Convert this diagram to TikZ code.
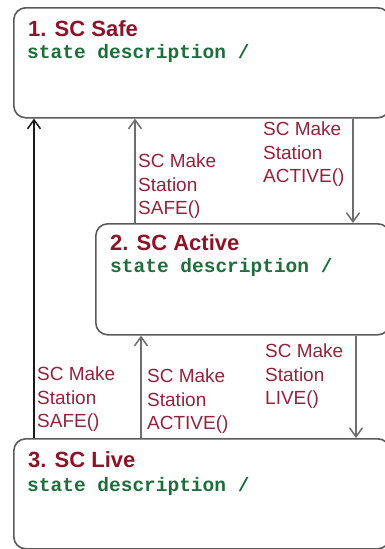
\documentclass[tikz,border=0pt]{standalone}
\usepackage{fontspec}
\setmainfont{Liberation Sans}
\newfontfamily\codefont{Liberation Mono}
\usetikzlibrary{arrows.meta}
\definecolor{titlered}{RGB}{140,20,40}
\definecolor{labelred}{RGB}{145,35,60}
\definecolor{codegreen}{RGB}{30,110,60}
\definecolor{boxgray}{RGB}{90,90,90}
\definecolor{linegray}{RGB}{110,110,110}
\tikzset{
  statebox/.style={draw=boxgray, line width=1.6pt, rounded corners=12pt,
    rectangle, inner sep=0pt, anchor=north west},
  statetitle/.style={anchor=base west, inner sep=0pt, text=titlered,
    font=\fontsize{22}{26}\selectfont\bfseries},
  statedesc/.style={anchor=base west, inner sep=0pt, text=codegreen,
    font=\codefont\fontsize{19.5}{23}\selectfont\bfseries},
  translabel/.style={anchor=north west, inner sep=0pt, align=left,
    text=labelred, font=\fontsize{19}{23.5}\selectfont},
  trans/.style={draw=linegray, line width=1.6pt,
    -{Straight Barb[length=9pt,width=13pt,line width=1.5pt]}},
  transdark/.style={trans, draw=black!90}
}
\begin{document}
\begin{tikzpicture}[x=1pt,y=-1pt]
  \useasboundingbox (0,0) rectangle (385,549);
  \begin{scope}
    \clip (0,0) rectangle (385,549);
    % the three states
    \node[statebox, minimum width=376pt, minimum height=110pt] (s1) at (13,7) {};
    \node[statebox, minimum width=294pt, minimum height=111pt] (s2) at (95,223) {};
    \node[statebox, minimum width=376pt, minimum height=110pt] (s3) at (13,438) {};
  \end{scope}

  \node[statetitle] (t1) at (28,36) {1. SC Safe};
  \node[statedesc] (d1) at (27,58) {state description /};
  \node[statetitle] (t2) at (110,250) {2. SC Active};
  \node[statedesc] (d2) at (110,272) {state description /};
  \node[statetitle] (t3) at (28,467) {3. SC Live};
  \node[statedesc] (d3) at (27,491) {state description /};

  % vertical positions of the transitions
  \coordinate (xa) at (34,0);
  \coordinate (xb) at (135,0);
  \coordinate (xc) at (353,0);
  \coordinate (xd) at (141,0);
  \coordinate (xe) at (356,0);

  \draw[transdark] (xa |- s3.north) -- (xa |- s1.south);
  \draw[trans] (xb |- s2.north) -- (xb |- s1.south);
  \draw[trans] (xc |- s1.south) -- (xc |- s2.north);
  \draw[trans] (xd |- s3.north) -- (xd |- s2.south);
  \draw[trans] (xe |- s2.south) -- (xe |- s3.north);

  % transition labels
  \node[translabel] (l1) at (263,122) {SC Make\\Station\\ACTIVE()};
  \node[translabel] (l2) at (138,154) {SC Make\\Station\\SAFE()};
  \node[translabel] (l3) at (37,367) {SC Make\\Station\\SAFE()};
  \node[translabel] (l4) at (147,369) {SC Make\\Station\\ACTIVE()};
  \node[translabel] (l5) at (265,344) {SC Make\\Station\\LIVE()};
\end{tikzpicture}
\end{document}
